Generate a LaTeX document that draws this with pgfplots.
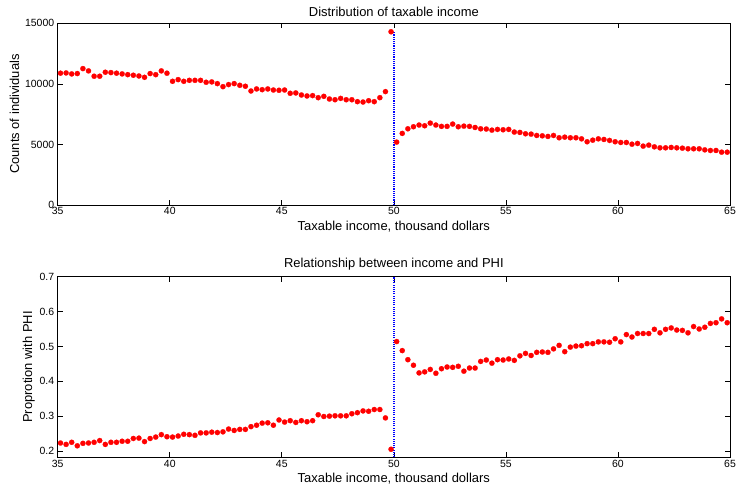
\documentclass[border=0pt]{standalone}
\usepackage{pgfplots}
\pgfplotsset{compat=1.18}
\usepackage{pgfplotstable}
\usepackage{fontspec}
\setmainfont{Liberation Sans}

\pgfplotstableread{
x y
35.125 10880
35.375 10900
35.625 10820
35.875 10850
36.125 11260
36.375 11070
36.625 10630
36.875 10630
37.125 10960
37.375 10930
37.625 10880
37.875 10820
38.125 10760
38.375 10710
38.625 10650
38.875 10540
39.125 10850
39.375 10760
39.625 11070
39.875 10880
40.125 10210
40.375 10350
40.625 10210
40.875 10290
41.125 10290
41.375 10290
41.625 10130
41.875 10160
42.125 10020
42.375 9770
42.625 9940
42.875 10020
43.125 9880
43.375 9800
43.625 9410
43.875 9580
44.125 9520
44.375 9580
44.625 9490
44.875 9470
45.125 9490
45.375 9220
45.625 9250
45.875 9080
46.125 9000
46.375 9030
46.625 8860
46.875 8970
47.125 8750
47.375 8690
47.625 8800
47.875 8690
48.125 8690
48.375 8530
48.625 8500
48.875 8610
49.125 8530
49.375 8860
49.625 9360
49.875 14300
50.125 5190
50.375 5910
50.625 6290
50.875 6460
51.125 6600
51.375 6540
51.625 6760
51.875 6600
52.125 6490
52.375 6490
52.625 6680
52.875 6460
53.125 6510
53.375 6490
53.625 6400
53.875 6290
54.125 6270
54.375 6180
54.625 6240
54.875 6210
55.125 6240
55.375 6020
55.625 5990
55.875 5880
56.125 5850
56.375 5740
56.625 5710
56.875 5660
57.125 5740
57.375 5550
57.625 5600
57.875 5550
58.125 5550
58.375 5460
58.625 5220
58.875 5350
59.125 5460
59.375 5410
59.625 5330
59.875 5220
60.125 5160
60.375 5160
60.625 5020
60.875 5080
61.125 4860
61.375 4940
61.625 4800
61.875 4720
62.125 4720
62.375 4750
62.625 4720
62.875 4690
63.125 4640
63.375 4640
63.625 4640
63.875 4550
64.125 4500
64.375 4500
64.625 4360
64.875 4360
}\counts

\pgfplotstableread{
x y
35.125 0.223
35.375 0.219
35.625 0.225
35.875 0.215
36.125 0.222
36.375 0.223
36.625 0.225
36.875 0.230
37.125 0.219
37.375 0.225
37.625 0.225
37.875 0.228
38.125 0.228
38.375 0.236
38.625 0.237
38.875 0.227
39.125 0.236
39.375 0.240
39.625 0.247
39.875 0.241
40.125 0.240
40.375 0.243
40.625 0.248
40.875 0.247
41.125 0.245
41.375 0.252
41.625 0.252
41.875 0.254
42.125 0.253
42.375 0.255
42.625 0.263
42.875 0.259
43.125 0.262
43.375 0.262
43.625 0.270
43.875 0.274
44.125 0.280
44.375 0.281
44.625 0.274
44.875 0.289
45.125 0.283
45.375 0.287
45.625 0.282
45.875 0.287
46.125 0.284
46.375 0.287
46.625 0.304
46.875 0.299
47.125 0.300
47.375 0.301
47.625 0.301
47.875 0.301
48.125 0.307
48.375 0.310
48.625 0.315
48.875 0.314
49.125 0.319
49.375 0.319
49.625 0.295
49.875 0.205
50.125 0.514
50.375 0.488
50.625 0.462
50.875 0.446
51.125 0.424
51.375 0.427
51.625 0.434
51.875 0.423
52.125 0.436
52.375 0.441
52.625 0.440
52.875 0.443
53.125 0.429
53.375 0.438
53.625 0.438
53.875 0.457
54.125 0.461
54.375 0.452
54.625 0.462
54.875 0.461
55.125 0.464
55.375 0.460
55.625 0.473
55.875 0.480
56.125 0.474
56.375 0.483
56.625 0.484
56.875 0.483
57.125 0.493
57.375 0.503
57.625 0.485
57.875 0.498
58.125 0.501
58.375 0.502
58.625 0.508
58.875 0.508
59.125 0.513
59.375 0.513
59.625 0.512
59.875 0.522
60.125 0.513
60.375 0.534
60.625 0.527
60.875 0.537
61.125 0.537
61.375 0.537
61.625 0.549
61.875 0.539
62.125 0.549
62.375 0.553
62.625 0.547
62.875 0.546
63.125 0.539
63.375 0.557
63.625 0.550
63.875 0.555
64.125 0.566
64.375 0.568
64.625 0.579
64.875 0.568
}\phi

\pgfplotstableread{
x y
50 0
50 14300
}\vlineA

\pgfplotstableread{
x y
50 0.182
50 0.7
}\vlineB

\pgfplotsset{
  mystyle/.style={
    scale only axis,
    width=672.3bp,
    xmin=35, xmax=65,
    xtick={35,40,...,65},
    tick align=inside,
    major tick length=5bp,
    axis line style={line width=0.8bp},
    every tick/.style={black, line width=0.7bp},
    tick label style={font=\fontsize{10.5}{11}\selectfont},
    xticklabel style={yshift=1bp},
    label style={font=\fontsize{13}{14}\selectfont},
    title style={font=\fontsize{13}{14}\selectfont, yshift=-3bp},
    /pgf/number format/assume math mode=true,
    /pgf/number format/1000 sep={},
    scaled y ticks=false,
    xlabel={Taxable income, thousand dollars},
    xlabel style={yshift=1bp},
    clip=false,
  },
  dots/.style={only marks, mark=*, mark size=2.6bp, red, mark options={solid, fill=red, draw=red, line width=0.2bp}},
  vl/.style={blue, line width=1.4bp, dash pattern=on 1.1bp off 1.1bp},
}

\begin{document}
\begin{tikzpicture}[x=1bp,y=1bp]
\useasboundingbox (0,0) rectangle (737,484);
\begin{axis}[mystyle,
  at={(57.7bp,279bp)}, anchor=south west,
  height=181.7bp,
  ymin=0, ymax=15000,
  ytick={0,5000,10000,15000},
  title={Distribution of taxable income},
  ylabel={Counts of individuals},
  ylabel style={yshift=-1bp},
]
\addplot[vl] table[x=x,y=y] {\vlineA};
\addplot[dots] table[x=x,y=y] {\counts};
\end{axis}
\begin{axis}[mystyle,
  at={(57.7bp,26.7bp)}, anchor=south west,
  height=180.6bp,
  ymin=0.182, ymax=0.7,
  ytick={0.2,0.3,...,0.7},
  yticklabel style={/pgf/number format/fixed, /pgf/number format/precision=1, /pgf/number format/fixed zerofill},
  title={Relationship between income and PHI},
  ylabel={Proprotion with PHI},
  ylabel style={yshift=-2bp},
]
\addplot[vl] table[x=x,y=y] {\vlineB};
\addplot[dots] table[x=x,y=y] {\phi};
\end{axis}
\end{tikzpicture}
\end{document}
